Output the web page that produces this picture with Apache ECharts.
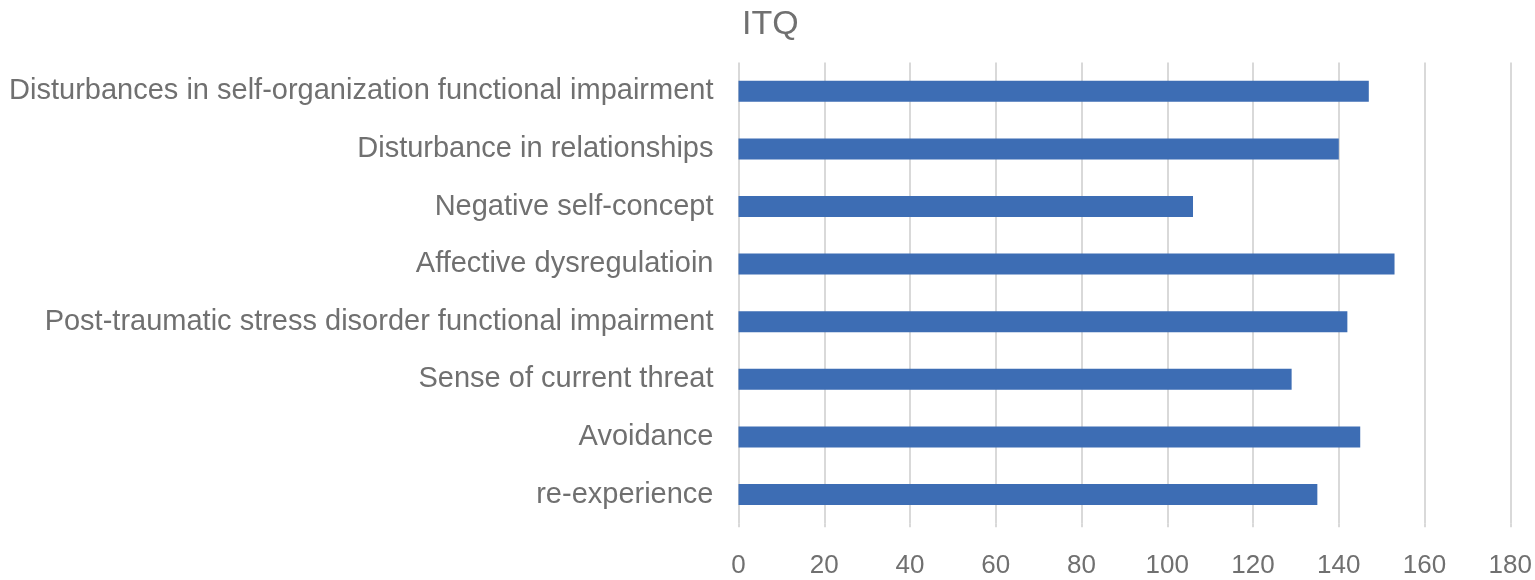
<!DOCTYPE html>
<html><head><meta charset="utf-8">
<script src="https://cdn.jsdelivr.net/npm/echarts@6/dist/echarts.min.js"></script>
<style>html,body{margin:0;padding:0;background:#fff}#c{width:1535px;height:580px}</style>
</head><body><div id="c"></div>
<script>
const categories = [
  "re-experience",
  "Avoidance",
  "Sense of current threat",
  "Post-traumatic stress disorder functional impairment",
  "Affective dysregulatioin",
  "Negative self-concept",
  "Disturbance in relationships",
  "Disturbances in self-organization functional impairment"
];
const values = [135, 145, 129, 142, 153, 106, 140, 147];
const titleText = "ITQ";
const FONT = "'Liberation Sans', Arial, Helvetica, sans-serif";
const TXT = "#707070";
const chart = echarts.init(document.getElementById('c'));
chart.setOption({
  animation: false,
  title: { text: titleText, left: 737, top: 3, textStyle: { fontFamily: FONT, fontSize: 34, fontWeight: 'normal', color: TXT } },
  grid: { left: 738.5, right: 24.7, top: 62.5, bottom: 56.7, containLabel: false },
  xAxis: {
    type: 'value', min: 0, max: 180, interval: 20,
    axisLine: { show: false },
    axisTick: { show: true, length: 4, lineStyle: { color: '#d9d9d9', width: 2 } },
    splitLine: { show: true, lineStyle: { color: '#d9d9d9', width: 2 } },
    axisLabel: { fontFamily: FONT, fontSize: 26, color: TXT, margin: 30 }
  },
  yAxis: {
    type: 'category', data: categories,
    axisLine: { show: false }, axisTick: { show: false },
    axisLabel: { fontFamily: FONT, fontSize: 29, color: TXT, margin: 25 }
  },
  series: [{
    type: 'bar', data: values, barWidth: 21,
    itemStyle: { color: '#3d6db4' }
  }]
});
</script></body></html>
